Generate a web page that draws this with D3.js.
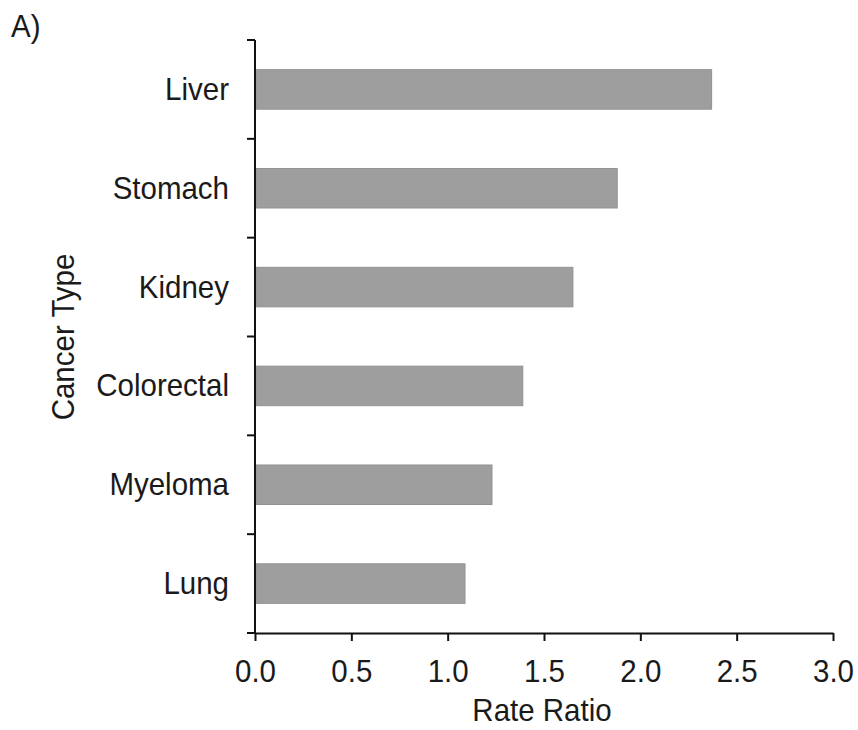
<!DOCTYPE html>
<html><head><meta charset="utf-8">
<script src="https://cdn.jsdelivr.net/npm/d3@7"></script>
<style>body{margin:0;background:#fff}text{font-family:"Liberation Sans",Arial,sans-serif;fill:#1a1a1a}</style>
</head><body>
<svg id="c" width="858" height="730"></svg>
<script>
const categories = ["Liver","Stomach","Kidney","Colorectal","Myeloma","Lung"];
const rateRatios = [2.37,1.88,1.65,1.39,1.23,1.09];
const xTicks = [0,0.5,1,1.5,2,2.5,3];

const svg = d3.select("#c");
const x = d3.scaleLinear().domain([0,3]).range([255,833]);
const y = d3.scaleBand().domain(categories).range([40,633]).paddingInner(0.6).paddingOuter(0.3);
const fs = 29.5;
const sy = 1.08;

// bars
svg.selectAll("rect.bar").data(categories).join("rect")
  .attr("class","bar")
  .attr("x", x(0)+1)
  .attr("y", d=>y(d))
  .attr("width", (d,i)=>x(rateRatios[i])-x(0)-1)
  .attr("height", y.bandwidth())
  .attr("fill","#9e9e9e")
  .attr("stroke","#929292").attr("stroke-width",1);

// y axis
const step = (633-40)/categories.length;
const yb = d3.range(categories.length+1).map(i=>40+i*step);
svg.append("line").attr("x1",x(0)).attr("x2",x(0)).attr("y1",40).attr("y2",633)
  .attr("stroke","#111").attr("stroke-width",2);
svg.selectAll("line.yt").data(yb).join("line").attr("class","yt")
  .attr("x1",x(0)-8).attr("x2",x(0)).attr("y1",d=>d).attr("y2",d=>d)
  .attr("stroke","#111").attr("stroke-width",2);
svg.selectAll("text.yl").data(categories).join("text").attr("class","yl")
  .attr("transform",d=>`translate(229,${y(d)+y.bandwidth()/2+10.5}) scale(1,${sy})`)
  .attr("text-anchor","end").attr("font-size",fs).text(d=>d);

// x axis
const xa = svg.append("g").attr("transform","translate(0,633)")
  .call(d3.axisBottom(x).tickValues(xTicks).tickFormat(d3.format(".1f")).tickSize(8).tickSizeOuter(0));
xa.select(".domain").attr("stroke","#111").attr("stroke-width",2);
xa.selectAll(".tick line").attr("stroke","#111").attr("stroke-width",2);
xa.selectAll(".tick text").attr("font-size",fs).attr("font-family","Liberation Sans, Arial, sans-serif").attr("fill","#1a1a1a")
  .attr("y",0).attr("dy",null).attr("transform",`translate(0,49) scale(1,${sy})`);

// titles
svg.append("text").attr("transform",`translate(542,721) scale(1,${sy})`).attr("text-anchor","middle").attr("font-size",fs).text("Rate Ratio");
svg.append("text").attr("transform",`translate(74,337) rotate(-90) scale(1,${sy})`).attr("text-anchor","middle").attr("font-size",fs).text("Cancer Type");
svg.append("text").attr("transform",`translate(11,37) scale(1,${sy})`).attr("font-size",fs).text("A)");
</script>
</body></html>
